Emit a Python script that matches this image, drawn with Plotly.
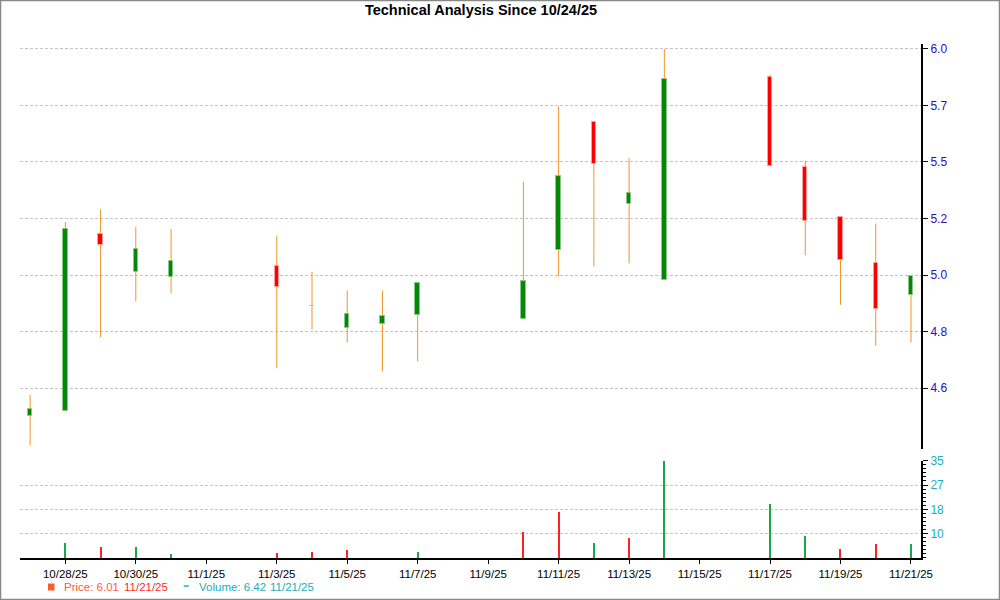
import plotly.graph_objects as go

# ---------------- data ----------------
dates = ["2025-10-27", "2025-10-28", "2025-10-29", "2025-10-30", "2025-10-31",
         "2025-11-03", "2025-11-04", "2025-11-05", "2025-11-06", "2025-11-07",
         "2025-11-10", "2025-11-11", "2025-11-12", "2025-11-13", "2025-11-14",
         "2025-11-17", "2025-11-18", "2025-11-19", "2025-11-20", "2025-11-21"]
open_ = [4.472, 4.488, 5.156, 5.005, 4.986, 5.029, 4.875, 4.790, 4.805, 4.839,
         4.825, 5.092, 5.630, 5.279, 4.975, 5.832, 5.435, 5.226, 5.041, 4.916]
high = [4.545, 5.205, 5.256, 5.185, 5.177, 5.150, 5.006, 4.932, 4.932, 4.962,
        5.371, 5.699, 5.630, 5.473, 5.961, 5.842, 5.461, 5.226, 5.198, 4.991]
low = [4.369, 4.488, 4.755, 4.891, 4.922, 4.641, 4.784, 4.736, 4.630, 4.666,
       4.825, 4.987, 5.027, 5.039, 4.975, 5.439, 5.071, 4.878, 4.725, 4.736]
close = [4.495, 5.177, 5.112, 5.096, 5.050, 4.947, 4.872, 4.843, 4.837, 4.962,
         4.968, 5.395, 5.449, 5.323, 5.821, 5.439, 5.208, 5.052, 4.862, 4.991]
volume = [1.2, 7.04, 5.68, 5.68, 3.06, 3.4, 3.74, 4.66, 1.5, 3.74,
          10.78, 17.6, 7.04, 8.74, 35.0, 20.3, 9.42, 5.0, 6.7, 6.42]
volume_dir = ["up", "up", "down", "up", "up", "down", "down", "down", "up", "up",
              "down", "down", "up", "down", "up", "up", "up", "down", "down", "up"]

price_tickvals = [4.570, 4.777, 4.993, 5.220, 5.456, 5.703, 5.962]
price_ticktext = ["4.6", "4.8", "5.0", "5.2", "5.5", "5.7", "6.0"]
vol_tickvals = [10, 18.333, 26.667, 35]
vol_ticktext = ["10", "18", "27", "35"]
x_tickvals = ["2025-10-28", "2025-10-30", "2025-11-01", "2025-11-03", "2025-11-05",
              "2025-11-07", "2025-11-09", "2025-11-11", "2025-11-13", "2025-11-15",
              "2025-11-17", "2025-11-19", "2025-11-21"]
x_ticktext = ["10/28/25", "10/30/25", "11/1/25", "11/3/25", "11/5/25", "11/7/25",
              "11/9/25", "11/11/25", "11/13/25", "11/15/25", "11/17/25",
              "11/19/25", "11/21/25"]

title_text = "Technical Analysis Since 10/24/25"

# ---------------- styles ----------------
FONT = "Liberation Sans, Arial, sans-serif"
UP_FILL, UP_EDGE = "#068706", "#86c986"
DN_FILL, DN_EDGE = "#ff0000", "#ff9c9c"
WICK = "#f0952a"
VOL_UP, VOL_DN = "#1aa84a", "#ff2020"
DAY_MS = 86400000.0

fig = go.Figure()

body_lo = [min(o, c) for o, c in zip(open_, close)]
body_hi = [max(o, c) for o, c in zip(open_, close)]
size = [h - l for h, l in zip(body_hi, body_lo)]
up = [c >= o for o, c in zip(open_, close)]

# wicks (drawn outside the bodies only)
wx, wy = [], []
for d, lo, hi, bl, bh in zip(dates, low, high, body_lo, body_hi):
    if lo < bl:
        wx += [d, d, None]
        wy += [lo, bl, None]
    if hi > bh:
        wx += [d, d, None]
        wy += [bh, hi, None]
fig.add_trace(go.Scatter(x=wx, y=wy, mode="lines", line=dict(color=WICK, width=1),
                         xaxis="x", yaxis="y", hoverinfo="skip", showlegend=False))

# bodies
fig.add_trace(go.Bar(x=dates, y=size, base=body_lo, width=0.125 * DAY_MS,
                     marker=dict(color=[UP_FILL if u else DN_FILL for u in up],
                                 line=dict(color=[UP_EDGE if u else DN_EDGE for u in up], width=1)),
                     xaxis="x", yaxis="y", hoverinfo="skip", showlegend=False))

# volume
fig.add_trace(go.Bar(x=dates, y=volume, width=0.032 * DAY_MS,
                     marker=dict(color=[VOL_UP if v == "up" else VOL_DN for v in volume_dir],
                                 line=dict(width=0)),
                     xaxis="x", yaxis="y2", hoverinfo="skip", showlegend=False))

grid = dict(showgrid=True, gridcolor="#c4c4c4", griddash="3px,2px", gridwidth=1)

fig.update_layout(
    width=1000, height=600,
    margin=dict(l=20, r=79, t=44, b=42),
    paper_bgcolor="white", plot_bgcolor="white",
    barmode="overlay", bargap=0,
    showlegend=False,
    title=dict(text="<b>" + title_text + "</b>", x=0.481, xref="container", xanchor="center",
               y=0.984, yref="container", yanchor="middle",
               font=dict(family=FONT, size=14.5, color="black")),
    xaxis=dict(type="date", range=["2025-10-26 17:07", "2025-11-21 06:49"],
               anchor="y2", showgrid=False, zeroline=False,
               showline=True, linecolor="black", linewidth=2,
               tickmode="array", tickvals=x_tickvals, ticktext=x_ticktext,
               ticks="outside", ticklen=4, tickwidth=1, tickcolor="black",
               tickfont=dict(family=FONT, size=11.5, color="black")),
    yaxis=dict(type="log", domain=[0.2121, 1.0], anchor="x", side="right",
               range=[0.63919, 0.77699], zeroline=False,
               showline=True, linecolor="black", linewidth=2,
               tickmode="array", tickvals=price_tickvals, ticktext=price_ticktext,
               ticks="outside", ticklen=5, tickwidth=1, tickcolor="black",
               tickfont=dict(family=FONT, size=12, color="#2a0cb8"), **grid),
    yaxis2=dict(domain=[0.0, 0.1893], anchor="x", side="right",
                range=[1.667, 35.0], zeroline=False,
                showline=True, linecolor="black", linewidth=2,
                tickmode="array", tickvals=vol_tickvals, ticktext=vol_ticktext,
                ticks="outside", ticklen=5, tickwidth=1, tickcolor="black",
                minor=dict(ticks="outside", ticklen=3, tickcolor="black",
                           tick0=10, dtick=8.3333 / 6, showgrid=False),
                tickfont=dict(family=FONT, size=12, color="#20aeba"), **grid),
)

# outer frame
fig.add_shape(type="rect", xref="paper", yref="paper",
              x0=-0.02164, x1=1.08713, y0=-0.08074, y1=1.08463,
              line=dict(color="#888888", width=1.5), fillcolor="rgba(0,0,0,0)", layer="above")

# legend markers
fig.add_shape(type="rect", xref="paper", yref="paper",
              x0=0.03108, x1=0.03829, y0=-0.06323, y1=-0.04961,
              line=dict(width=0), fillcolor="#ff5a2a")
fig.add_shape(type="line", xref="paper", yref="paper",
              x0=0.18169, x1=0.18724, y0=-0.05447, y1=-0.05447,
              line=dict(color="#20aeba", width=1.5))

legend_items = [
    ("Price: 6.01", "#ff5a3c", 0.04661),
    ("11/21/25", "#ff2a2a", 0.11287),
    ("Volume: 6.42", "#20aeba", 0.19612),
    ("11/21/25", "#20aeba", 0.27564),
]
for txt, col, xp in legend_items:
    fig.add_annotation(text=txt, xref="paper", yref="paper", x=xp, y=-0.0570,
                       xanchor="left", yanchor="middle", showarrow=False,
                       font=dict(family=FONT, size=11.5, color=col))

fig.write_html("out.html", config={"displayModeBar": False},
               post_script="document.body.style.margin='0';document.body.style.overflow='hidden';")
